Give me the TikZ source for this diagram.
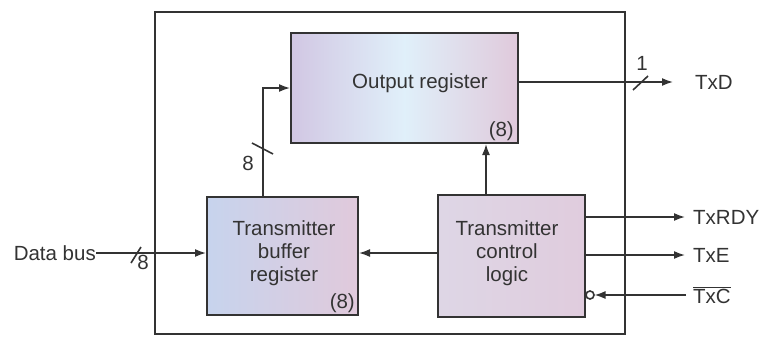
\documentclass[tikz,border=0pt]{standalone}
\usepackage{fontspec}
\setmainfont{Liberation Sans}
\usetikzlibrary{arrows.meta,calc}
\definecolor{lav}{rgb}{0.82,0.78,0.89}
\definecolor{lavblue}{rgb}{0.78,0.83,0.93}
\definecolor{paleblue}{rgb}{0.88,0.94,0.98}
\definecolor{pinkish}{rgb}{0.88,0.79,0.86}
\definecolor{greylav}{rgb}{0.87,0.84,0.90}
\definecolor{ink}{rgb}{0.2,0.2,0.2}
\begin{document}
\begin{tikzpicture}[x=1pt,y=-1pt,
  regbox/.style={draw=ink, line width=2pt, inner sep=0pt},
  lbl/.style={font=\fontsize{20.5}{23}\selectfont, text=ink, align=center, inner sep=0pt},
  conn/.style={line width=1.6pt, draw=ink, -{Latex[length=11pt,width=8pt]}},
  slash/.style={line width=1.6pt, draw=ink}
]
\useasboundingbox (0,0) rectangle (770,337);
% outer frame
\node[draw=ink, line width=1.6pt, minimum width=470pt, minimum height=322pt, inner sep=0pt] (frame) at (390,173) {};
% blocks
\node[regbox, minimum width=227pt, minimum height=110pt, left color=lav, right color=pinkish, middle color=paleblue] (out) at (404.5,88) {};
\node[regbox, minimum width=151pt, minimum height=118pt, left color=lavblue, right color=pinkish] (buf) at (282.5,256) {};
\node[regbox, minimum width=147pt, minimum height=122pt, left color=greylav, right color=pinkish!80!greylav] (ctl) at (511.5,256) {};
% texts in blocks
\node[lbl] (outtxt) at (420,83) {Output register};
\node[lbl, anchor=south east] (out8) at ($(out.south east)+(-5,-3)$) {(8)};
\node[lbl] (buftxt) at (284,253) {Transmitter\\buffer\\register};
\node[lbl, anchor=south east] (buf8) at ($(buf.south east)+(-4,-3)$) {(8)};
\node[lbl] (ctltxt) at (507,253) {Transmitter\\control\\logic};
% external labels
\node[lbl, anchor=east] (db) at (96,253) {Data bus};
\node[lbl, anchor=west] (txd) at (695,82) {TxD};
\node[lbl, anchor=west] (txrdy) at (693,217) {TxRDY};
\node[lbl, anchor=west] (txe) at (693,255) {TxE};
\node[lbl, anchor=west] (txc) at (693,295) {$\overline{\mbox{TxC}}$};
% coordinates
\coordinate (bstart) at (263,0 |- buf.north);
\coordinate (bend) at (263,0 |- out.west);
\coordinate (txdend) at (673,82);
\coordinate (rdyend) at (685,217);
\coordinate (eend) at (685,255);
\coordinate (cstart) at (686,295);
\coordinate (bubble) at (590,295);
% connectors
\draw[conn] (bstart) -- (bend) -- (out.west);
\draw[conn] (ctl.north -| 486,0) -- (486,0 |- out.south);
\draw[conn] (ctl.west |- 0,253) -- (buf.east |- 0,253);
\draw[conn] (db.east) -- (buf.west |- db.east);
\draw[conn] (out.east |- txdend) -- (txdend);
\draw[conn] (ctl.east |- rdyend) -- (rdyend);
\draw[conn] (ctl.east |- eend) -- (eend);
\draw[conn] (cstart) -- ($(bubble)+(4.5,0)$);
\draw[line width=1.6pt, draw=ink, fill=white] (bubble) circle (4pt);
% bus slashes and widths
\draw[slash] (252,143) -- (273,154);
\node[lbl] (n8a) at (248,163) {8};
\draw[slash] (131,263) -- (141,247);
\node[lbl] (n8b) at (143,262) {8};
\draw[slash] (633,90) -- (648,76);
\node[lbl] (n1) at (642,63) {1};
\end{tikzpicture}
\end{document}
